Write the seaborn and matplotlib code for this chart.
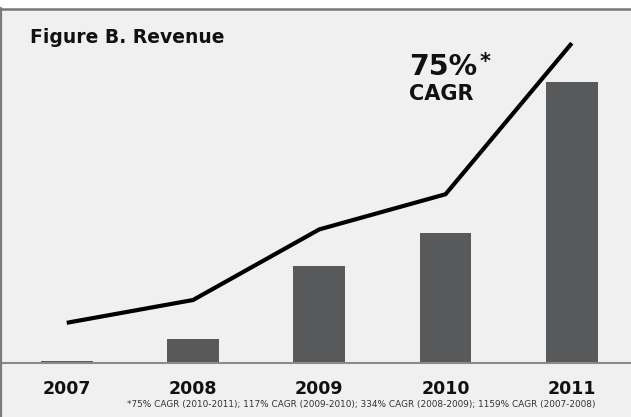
import matplotlib
matplotlib.use("Agg")
import matplotlib.pyplot as plt
from matplotlib.lines import Line2D
from matplotlib.patches import Rectangle
import seaborn as sns

# data (revenue, 2011 = 100)
years = [2007, 2008, 2009, 2010, 2011]
revenue = [0.9, 8.6, 34.6, 46.4, 100]
# trend line drawn over the bars
line_vals = [14.4, 22.5, 47.6, 60.1, 113.8]
year_labels = ["2007", "2008", "2009", "2010", "2011"]

title = "Figure B. Revenue"
big_num = "75%"
big_sub = "CAGR"
footnote = "*75% CAGR (2010-2011); 117% CAGR (2009-2010); 334% CAGR (2008-2009); 1159% CAGR (2007-2008)"

W, H = 631, 417
bg = "#f0f0f0"
bar_col = "#58595b"

sns.set_style("white")
plt.rcParams["font.family"] = ["DejaVu Sans"]

fig = plt.figure(figsize=(W / 100, H / 100), dpi=100)
fig.patch.set_facecolor("white")
fig.patches.append(Rectangle((0, 0), 1, 1 - 9 / H, transform=fig.transFigure,
                             facecolor=bg, edgecolor="none", zorder=-10))
fig.add_artist(Line2D([0, 1], [1 - 8.5 / H] * 2, color="#777777", lw=1.8))
fig.add_artist(Line2D([1 / W, 1 / W], [0, 1 - 8 / H], color="#7a7a7a", lw=1.6))

ax = fig.add_axes([2 / W, (H - 363.3) / H, (W - 2) / W, (363.3 - 10) / H])
ax.set_facecolor("none")

sns.barplot(x=years, y=revenue, native_scale=True, width=0.41, color=bar_col,
            saturation=1, linewidth=0, ax=ax)
sns.lineplot(x=years, y=line_vals, color="black", linewidth=3, ax=ax,
             solid_capstyle="butt", solid_joinstyle="miter")

ax.set_xlim(2006.487, 2011.469)
ax.set_ylim(0, 125.6)
ax.set_xticks(years)
ax.set_xticklabels(year_labels, fontsize=12.5, fontweight="bold", color="#111111")
ax.set_yticks([])
ax.tick_params(axis="x", length=0, pad=12)
ax.set_xlabel("")
ax.set_ylabel("")
for s in ["left", "right", "top"]:
    ax.spines[s].set_visible(False)
ax.spines["bottom"].set_color("#8a8a8a")
ax.spines["bottom"].set_linewidth(1.5)

fig.text(30 / W, 1 - 43.3 / H, title, fontsize=13.5, fontweight="bold",
         va="baseline", ha="left", color="#111111")
big = fig.text(409 / W, 1 - 75 / H, big_num, fontsize=20.5, fontweight="bold",
               va="baseline", ha="left", color="#111111")
ax.annotate("*", xy=(1, 1), xycoords=big, xytext=(1.5, 1), textcoords="offset points",
            fontsize=15, fontweight="bold", va="top", ha="left", color="#111111")
fig.text(409 / W, 1 - 100 / H, big_sub, fontsize=15, fontweight="bold",
         va="baseline", ha="left", color="#111111")
fig.text(361 / W, 1 - 404 / H, footnote, fontsize=6.4, va="center",
         ha="center", color="#333333")

fig.savefig("out.png", dpi=100)
